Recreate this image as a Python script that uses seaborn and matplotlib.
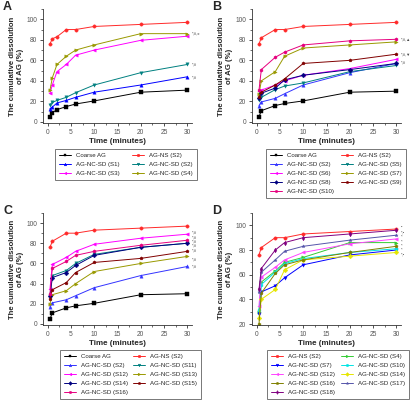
import numpy as np
import pandas as pd
import matplotlib
matplotlib.use("Agg")
import matplotlib.pyplot as plt
import seaborn as sns
from matplotlib.ticker import MultipleLocator

# tempos de coleta (min)
t_a = [0.5, 1, 2, 4, 6, 10, 20, 30]
t_b = [0.5, 1, 4, 6, 10, 20, 30]

# Painel A
coarse_a = [5, 9, 12, 15, 17.5, 20.5, 29, 31]
ns_a = [76, 81, 83, 90, 90, 93, 95, 97]
s1_a = [13, 14.5, 18.5, 21, 24, 29, 36, 44]
s2_a = [17, 19, 21, 24, 28.5, 36, 48, 56]
s3_a = [28, 36, 49, 56, 65, 70, 79.5, 83.5]
s4_a = [31, 43, 56, 64, 70, 75, 86, 86]

# Painel B
coarse_b = [5, 11, 16, 18, 20.5, 29, 30]
ns_b = [76, 82, 90, 90, 93, 95, 97]
s2_b = [16, 19.5, 23, 27.5, 36, 48, 57]
s5_b = [21, 24, 31.5, 35, 38, 49, 55]
s6_b = [30, 31, 36, 40, 45.5, 52, 61]
s7_b = [27, 40, 49, 64, 72, 75, 78]
s8_b = [23, 28, 33, 41, 45.5, 51, 57]
s9_b = [24, 29, 36, 42, 57, 60, 66]
s10_b = [31, 51, 63, 68, 75, 79, 80.5]

# Painel C
s11_c = [28, 48, 53, 60, 69, 76, 80]
s12_c = [35, 59, 66, 72, 79, 85, 89]
s13_c = [20, 29, 33, 40, 52, 60, 67]
s14_c = [28, 46, 51, 58, 68, 76, 80]
s15_c = [25, 34, 41, 51, 61, 65, 72]
s16_c = [30, 55, 62, 68, 72, 78, 83]
s2_c = [17, 21, 24, 28, 36, 48, 57]

# Painel D
s4_d = [30, 54, 63, 70, 74, 86, 86]
s7_d = [28, 46, 51, 57.5, 68, 76, 80]
s10_d = [31, 52, 62, 69, 73, 78, 81]
s12_d = [35, 58, 66, 72, 78, 85, 89]
s14_d = [25, 40, 48, 64, 72, 75, 78]
s16_d = [20, 45, 61, 68, 72, 78, 83]
s17_d = [46, 62, 72, 79, 83, 88, 92]
s18_d = [48, 65, 80, 86, 90, 93, 96]

# rótulos de significância
notes_a = [(86, "*,#,\u25cb"), (56, "*,#"), (43, "*,#")]
notes_b = [(80.5, "*,#,\u25b2"), (66, "*,#,\u25bc"), (58, "*,#")]
notes_c = [(91, "*,#"), (86, "*,#"), (82, "*,#"), (78, "*,#"),
           (73, "*,#"), (64, "*,#"), (57, "*,#")]
notes_d = [(98, "\u2022"), (94, "*,\u2022"), (90.5, "*"), (87, "*"),
           (83.5, "*"), (80, "*"), (76.5, "*,\u2022")]

panels = {
    "A": [
        ("Coarse AG", t_a, coarse_a, "black", "s"),
        ("AG-NS (S2)", t_a, ns_a, "#ff2a2a", "o"),
        ("AG-NC-SD (S1)", t_a, s1_a, "#0000ff", "^"),
        ("AG-NC-SD (S2)", t_a, s2_a, "#008080", "v"),
        ("AG-NC-SD (S3)", t_a, s3_a, "#ff00ff", "<"),
        ("AG-NC-SD (S4)", t_a, s4_a, "#999900", ">"),
    ],
    "B": [
        ("Coarse AG", t_b, coarse_b, "black", "s"),
        ("AG-NS (S2)", t_b, ns_b, "#ff2a2a", "o"),
        ("AG-NC-SD (S2)", t_b, s2_b, "#3333ff", "^"),
        ("AG-NC-SD (S5)", t_b, s5_b, "#008080", "v"),
        ("AG-NC-SD (S6)", t_b, s6_b, "#ff00ff", "<"),
        ("AG-NC-SD (S7)", t_b, s7_b, "#999900", ">"),
        ("AG-NC-SD (S8)", t_b, s8_b, "#000080", "D"),
        ("AG-NC-SD (S9)", t_b, s9_b, "#800000", "p"),
        ("AG-NC-SD (S10)", t_b, s10_b, "#e6007e", "h"),
    ],
    "C": [
        ("Coarse AG", t_b, coarse_b, "black", "s"),
        ("AG-NS (S2)", t_b, ns_b, "#ff2a2a", "o"),
        ("AG-NC-SD (S2)", t_b, s2_c, "#3333ff", "^"),
        ("AG-NC-SD (S11)", t_b, s11_c, "#008080", "v"),
        ("AG-NC-SD (S12)", t_b, s12_c, "#ff00ff", "<"),
        ("AG-NC-SD (S13)", t_b, s13_c, "#999900", ">"),
        ("AG-NC-SD (S14)", t_b, s14_c, "#000080", "D"),
        ("AG-NC-SD (S15)", t_b, s15_c, "#800000", "p"),
        ("AG-NC-SD (S16)", t_b, s16_c, "#e6007e", "h"),
    ],
    "D": [
        ("AG-NS (S2)", t_b, ns_b, "#ff2a2a", "o"),
        ("AG-NC-SD (S4)", t_b, s4_d, "#33cc33", ">"),
        ("AG-NC-SD (S7)", t_b, s7_d, "#0000ff", "v"),
        ("AG-NC-SD (S10)", t_b, s10_d, "#00e5e5", "h"),
        ("AG-NC-SD (S12)", t_b, s12_d, "#ff44ff", "<"),
        ("AG-NC-SD (S14)", t_b, s14_d, "#e6e600", "D"),
        ("AG-NC-SD (S16)", t_b, s16_d, "#808000", "p"),
        ("AG-NC-SD (S17)", t_b, s17_d, "#5555aa", "*"),
        ("AG-NC-SD (S18)", t_b, s18_d, "#800080", "d"),
    ],
}
notes = {"A": notes_a, "B": notes_b, "C": notes_c, "D": notes_d}

sns.set_style("ticks")
plt.rcParams["font.family"] = ["Liberation Sans", "DejaVu Sans"]

fig = plt.figure(figsize=(4.17, 4.03), dpi=100)
W, H = 417, 403

# posições em pixels: (esq, topo, dir, base)
boxes = {
    "A": (43, 9, 192, 123),
    "B": (252, 9, 401, 123),
    "C": (43, 213, 192, 325),
    "D": (252, 213, 401, 325),
}
legend_pos = {"A": (52, 146), "B": (263, 146), "C": (57, 347), "D": (264, 347)}
col_space = {"A": 2.0, "B": 1.1, "C": 0.8, "D": 1.0}
ylims = {"A": (-1, 110), "B": (-1, 110), "C": (-1, 110), "D": (19.2, 110)}

for key, series in panels.items():
    l, t, r, b = boxes[key]
    ax = fig.add_axes([l / W, 1 - b / H, (r - l) / W, (b - t) / H])
    for name, tt, vals, col, mk in series:
        sns.lineplot(x=tt, y=vals, ax=ax, color=col, marker=mk, markersize=2.4,
                     markeredgewidth=0.3, markeredgecolor=col, linewidth=0.7, label=name)
    for y, txt in notes[key]:
        ax.text(31.0, y, txt, fontsize=3.0, color="#444444", va="center", ha="left")
    ax.set_xlim(-1, 31)
    ax.set_ylim(*ylims[key])
    ax.xaxis.set_major_locator(MultipleLocator(5))
    ax.xaxis.set_minor_locator(MultipleLocator(2.5))
    ax.yaxis.set_major_locator(MultipleLocator(20))
    ax.yaxis.set_minor_locator(MultipleLocator(10))
    ax.tick_params(axis="both", which="major", labelsize=4.8, length=2.5, width=0.6,
                   pad=1.5, colors="#333333", labelcolor="#555555")
    ax.tick_params(axis="both", which="minor", length=1.5, width=0.5, colors="#333333")
    for s in ["left", "bottom"]:
        ax.spines[s].set_linewidth(0.6)
        ax.spines[s].set_color("#333333")
    sns.despine(ax=ax)
    ax.set_xlabel("Time (minutes)", fontsize=5.8, fontweight="bold", labelpad=1.5)
    ax.set_ylabel("The cumulative dissolution\nof AG (%)", fontsize=5.6,
                  fontweight="bold", labelpad=1.5, linespacing=1.35)

    handles, labels = ax.get_legend_handles_labels()
    ax.get_legend().remove()
    order = list(range(0, len(handles), 2)) + list(range(1, len(handles), 2))
    lx, ly = legend_pos[key]
    leg = fig.legend([handles[i] for i in order], [labels[i] for i in order],
                     loc="upper left", bbox_to_anchor=(lx / W, 1 - ly / H),
                     ncol=2, fontsize=4.4, frameon=True, fancybox=False,
                     handlelength=2.0, handletextpad=0.8, columnspacing=col_space[key],
                     labelspacing=0.6, borderpad=0.65, markerscale=0.8)
    leg.get_frame().set_edgecolor("#555555")
    leg.get_frame().set_linewidth(0.7)

    fig.text((l - 40) / W, 1 - (t - 8) / H, key, fontsize=9, fontweight="bold",
             va="top", ha="left")

fig.savefig("out.png", dpi=100)
